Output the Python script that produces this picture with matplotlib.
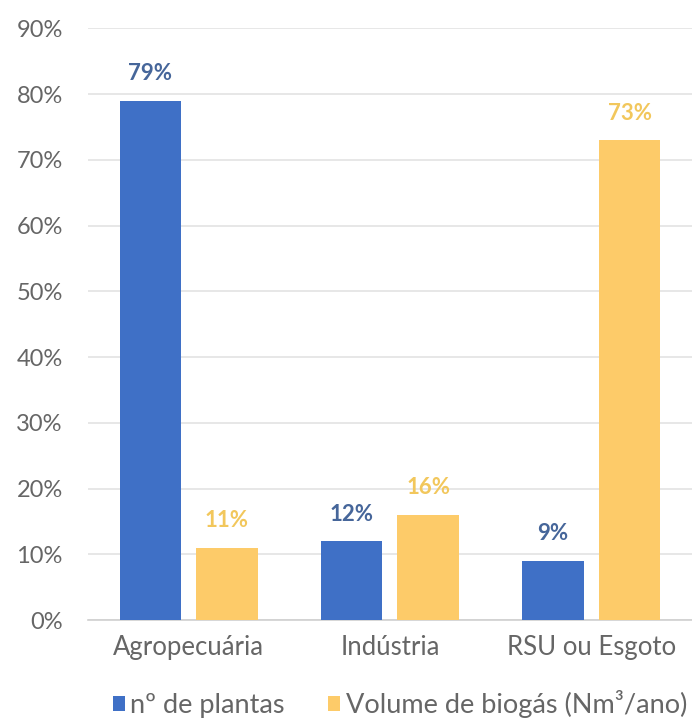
import numpy as np
import matplotlib.pyplot as plt

categorias = ["Agropecuária", "Indústria", "RSU ou Esgoto"]
plantas = [79, 12, 9]
volume = [11, 16, 73]
serie_nomes = ["nº de plantas", "Volume de biogás (Nm³/ano)"]
yticks = [0, 10, 20, 30, 40, 50, 60, 70, 80, 90]

azul = "#3F70C6"
amarelo = "#FDCB69"

plt.rcParams['font.family'] = ['Lato', 'DejaVu Sans']

fig = plt.figure(figsize=(6.92, 7.26), dpi=100)
ax = fig.add_axes([0.127, 0.146, 0.873, 0.815])

x = np.arange(len(categorias))
w = 0.305
off = 0.19
b1 = ax.bar(x - off, plantas, w, color=azul, label=serie_nomes[0], zorder=3)
b2 = ax.bar(x + off, volume, w, color=amarelo, label=serie_nomes[1], zorder=3)

# rótulos de valor acima das barras
for rect, v in zip(b1, plantas):
    ax.text(rect.get_x() + rect.get_width() / 2, v + 4.1, f"{v}%",
            ha="center", va="center", fontsize=16, fontweight="bold", color="#46669A")
for rect, v in zip(b2, volume):
    ax.text(rect.get_x() + rect.get_width() / 2, v + 4.1, f"{v}%",
            ha="center", va="center", fontsize=16, fontweight="bold", color="#F2C75C")

ax.set_xlim(-0.5, 2.5)
ax.set_ylim(0, 90)
ax.set_yticks(yticks)
ax.set_yticklabels([f"{t}%" for t in yticks])
ax.set_xticks(x)
ax.set_xticklabels(categorias)
ax.tick_params(axis="y", length=0, pad=18, labelsize=17, labelcolor="#666666")
ax.tick_params(axis="x", length=0, pad=11, labelsize=18.5, labelcolor="#666666")
ax.grid(axis="y", color="#E3E3E3", linewidth=1.2, zorder=0)
for s in ["top", "right", "left"]:
    ax.spines[s].set_visible(False)
ax.spines["bottom"].set_color("#D0D0D0")
ax.spines["bottom"].set_linewidth(1.2)

leg = fig.legend(loc="center", bbox_to_anchor=(0.578, 0.03), ncol=2, frameon=False,
                 fontsize=19.5, handlelength=0.45, handleheight=0.45, handletextpad=0.2,
                 columnspacing=1.6, borderpad=0)
for t in leg.get_texts():
    t.set_color("#666666")

fig.savefig("out.png", dpi=100)
